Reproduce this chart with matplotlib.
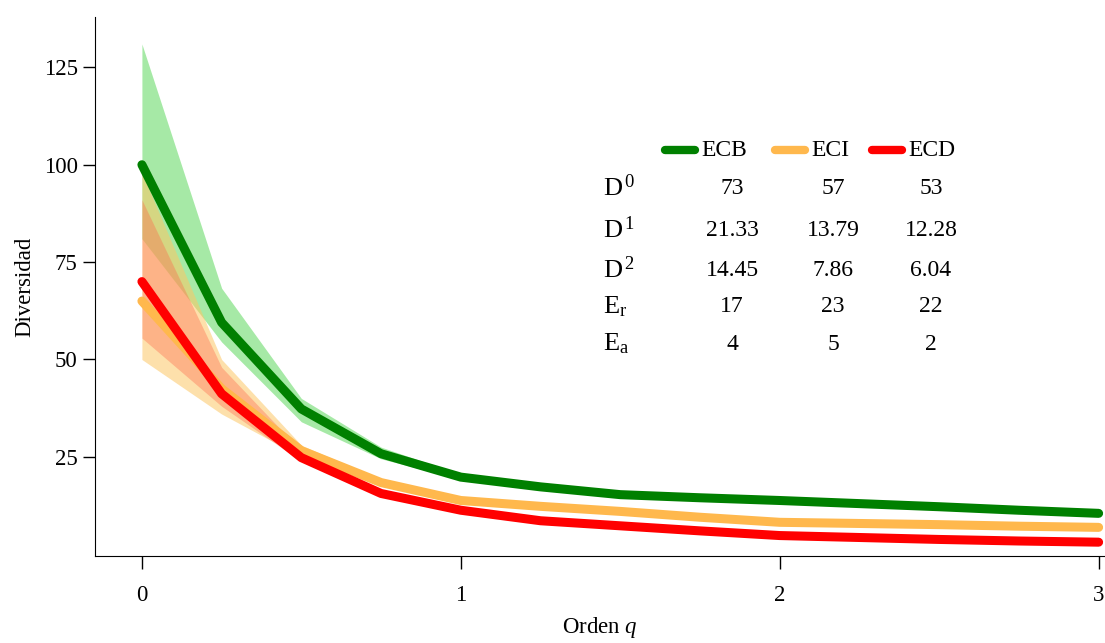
import matplotlib
matplotlib.use("Agg")
import matplotlib.pyplot as plt

plt.rcParams['font.family'] = ['Liberation Serif', 'DejaVu Serif']
plt.rcParams['mathtext.fontset'] = 'custom'
plt.rcParams['mathtext.rm'] = 'Liberation Serif'
plt.rcParams['mathtext.it'] = 'Liberation Serif:italic'

q = [0, 0.25, 0.5, 0.75, 1, 1.25, 1.5, 1.75, 2, 2.25, 2.5, 2.75, 3]

ecb = [100, 59.5, 37.3, 25.8, 19.8, 17.3, 15.3, 14.5, 13.8, 13.0, 12.2, 11.3, 10.5]
ecb_lo = [81, 54.5, 34.0, 24.5, 19.2, 16.8, 14.9, 14.1, 13.4, 12.6, 11.8, 10.9, 10.1]
ecb_hi = [131, 68.3, 40.0, 27.5, 20.5, 17.9, 15.8, 15.0, 14.3, 13.5, 12.7, 11.8, 11.0]

eci = [65, 42.5, 26.6, 18.4, 13.8, 12.3, 11.0, 9.5, 8.2, 7.9, 7.6, 7.2, 6.9]
eci_lo = [50, 36.0, 25.0, 17.6, 13.3, 11.8, 10.5, 9.0, 7.8, 7.5, 7.2, 6.8, 6.5]
eci_hi = [98, 50.0, 28.0, 19.2, 14.3, 12.8, 11.5, 10.0, 8.6, 8.3, 8.0, 7.6, 7.3]

ecd = [70, 41.2, 24.8, 15.6, 11.3, 8.6, 7.3, 6.0, 4.8, 4.3, 3.8, 3.4, 3.1]
ecd_lo = [55.5, 38.0, 23.8, 15.0, 10.9, 8.2, 6.9, 5.6, 4.4, 3.9, 3.4, 3.0, 2.7]
ecd_hi = [91, 48.0, 26.5, 16.3, 11.8, 9.0, 7.7, 6.4, 5.2, 4.7, 4.2, 3.8, 3.5]

names = ['ECB', 'ECI', 'ECD']
line_colors = ['#008000', '#FFB84D', '#FF0000']
band_colors = ['#32CD32', '#FDC766', '#FF6A4D']
band_alpha = [0.43, 0.55, 0.38]

row_labels = [r'$\mathrm{D}^{\,0}$', r'$\mathrm{D}^{\,1}$', r'$\mathrm{D}^{\,2}$',
              r'$\mathrm{E}_{\mathrm{r}}$', r'$\mathrm{E}_{\mathrm{a}}$']
table = [['73', '57', '53'],
         ['21.33', '13.79', '12.28'],
         ['14.45', '7.86', '6.04'],
         ['17', '23', '22'],
         ['4', '5', '2']]

fig = plt.figure(figsize=(11.05, 6.43), dpi=100)
ax = fig.add_axes([0.086, 0.135, 0.914, 0.839])

series = [(ecb, ecb_lo, ecb_hi), (eci, eci_lo, eci_hi), (ecd, ecd_lo, ecd_hi)]
for (y, lo, hi), bc, a in zip(series, band_colors, band_alpha):
    ax.fill_between(q, lo, hi, color=bc, alpha=a, linewidth=0)
for (y, lo, hi), lc in zip(series, line_colors):
    ax.plot(q, y, color=lc, linewidth=6.5, solid_capstyle='round', solid_joinstyle='round')

ax.set_xlim(-0.147, 3.02)
ax.set_ylim(-0.5, 138)
ax.set_xticks([0, 1, 2, 3])
ax.set_yticks([25, 50, 75, 100, 125])
ax.spines['top'].set_visible(False)
ax.spines['right'].set_visible(False)
ax.tick_params(axis='both', labelsize=16.5, length=9, width=1)
ax.tick_params(axis='x', pad=12)
ax.set_ylabel('Diversidad', fontsize=16.5, labelpad=6)
ax.set_xlabel(r'Orden $\mathit{q}$', fontsize=16.5, labelpad=6)

# legend + summary table
leg_x = [665, 775, 872]
for lx, lc, nm in zip(leg_x, line_colors, names):
    y0 = 643 - 150
    fig.lines.append(plt.Line2D([lx / 1105, (lx + 30) / 1105], [y0 / 643, y0 / 643],
                                color=lc, linewidth=6, solid_capstyle='round',
                                transform=fig.transFigure))
    fig.text((lx + 36) / 1105, y0 / 643, nm, fontsize=17, va='center', ha='left')

col_x = [732, 833, 931]
row_y = [188, 230, 270, 307, 344]
for ry, lab, vals in zip(row_y, row_labels, table):
    fig.text(603 / 1105, 1 - ry / 643, lab, fontsize=19, va='center', ha='left')
    for cx, v in zip(col_x, vals):
        fig.text(cx / 1105, 1 - ry / 643, v, fontsize=17, va='center', ha='center')

fig.savefig('out.png', dpi=100)
